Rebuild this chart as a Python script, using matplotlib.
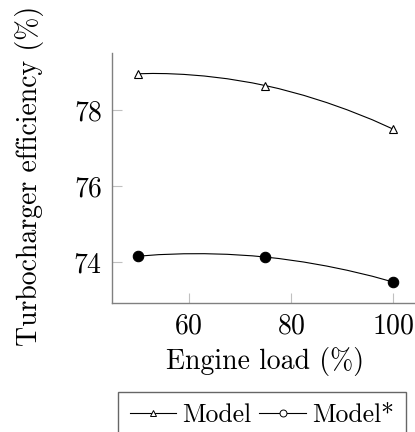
import matplotlib
matplotlib.use('Agg')
import matplotlib.pyplot as plt
from matplotlib.path import Path
from matplotlib.patches import PathPatch
from matplotlib.lines import Line2D

plt.rcParams['font.family'] = 'serif'
plt.rcParams['font.serif'] = ['cmr10']
plt.rcParams['mathtext.fontset'] = 'cm'
plt.rcParams['axes.formatter.use_mathtext'] = True

load = [50, 75, 100]
model = [78.96, 78.65, 77.50]
model_star = [74.16, 74.14, 73.48]
xticks = [60, 80, 100]
yticks = [74, 76, 78]


def smooth_path(xs, ys, t=0.2775):
    pts = list(zip(xs, ys))
    verts = [pts[0]]
    codes = [Path.MOVETO]
    n = len(pts)
    for i in range(n - 1):
        p0, p1 = pts[i], pts[i + 1]
        if i == 0:
            c1 = p0
        else:
            pr = pts[i - 1]
            c1 = (p0[0] + t * (p1[0] - pr[0]), p0[1] + t * (p1[1] - pr[1]))
        if i + 1 == n - 1:
            c2 = p1
        else:
            nx = pts[i + 2]
            c2 = (p1[0] - t * (nx[0] - p0[0]), p1[1] - t * (nx[1] - p0[1]))
        verts += [c1, c2, p1]
        codes += [Path.CURVE4] * 3
    return Path(verts, codes)


fig = plt.figure(figsize=(4.15, 4.32), dpi=100)
ax = fig.add_axes([112 / 415, 129 / 432, 307 / 415, 250 / 432])

for ys in (model, model_star):
    ax.add_patch(PathPatch(smooth_path(load, ys), fill=False, lw=0.8,
                           edgecolor='black', zorder=2))

ax.plot(load, model, ls='none', marker='^', ms=6, mfc='white', mec='black',
        mew=0.8, zorder=3)
ax.plot(load, model_star, ls='none', marker='o', ms=7.5, mfc='black',
        mec='black', mew=0.8, zorder=3)

ax.set_xlim(45, 105)
ax.set_ylim(72.932, 79.508)
ax.set_xticks(xticks)
ax.set_yticks(yticks)

for s in ('top', 'right'):
    ax.spines[s].set_visible(False)
for s in ('left', 'bottom'):
    ax.spines[s].set_color('#808080')
    ax.spines[s].set_linewidth(1.0)
ax.tick_params(direction='in', length=7, width=0.8, color='#c0c0c0',
               labelsize=20, pad=7)

ax.set_xlabel('Engine load (%)', fontsize=20, labelpad=6)
ax.set_ylabel('Turbocharger efficiency (%)', fontsize=20)
ax.yaxis.set_label_coords(-0.222, 0.51)

handles = [
    Line2D([], [], color='black', lw=0.8, marker='^', ms=5, mfc='white',
           mec='black', mew=0.7),
    Line2D([], [], color='black', lw=0.8, marker='o', ms=5, mfc='white',
           mec='black', mew=0.7),
]
leg = fig.legend(handles, ['Model', 'Model*'], loc='upper center',
                 bbox_to_anchor=(262 / 415, 1 - 391.5 / 432), ncol=2,
                 fontsize=18.5, frameon=True, fancybox=False,
                 handlelength=1.8, handletextpad=0.25, columnspacing=0.3,
                 borderpad=0.45, borderaxespad=0)
leg.get_frame().set_edgecolor('#404040')
leg.get_frame().set_linewidth(1.0)

fig.savefig('out.png', dpi=100)
